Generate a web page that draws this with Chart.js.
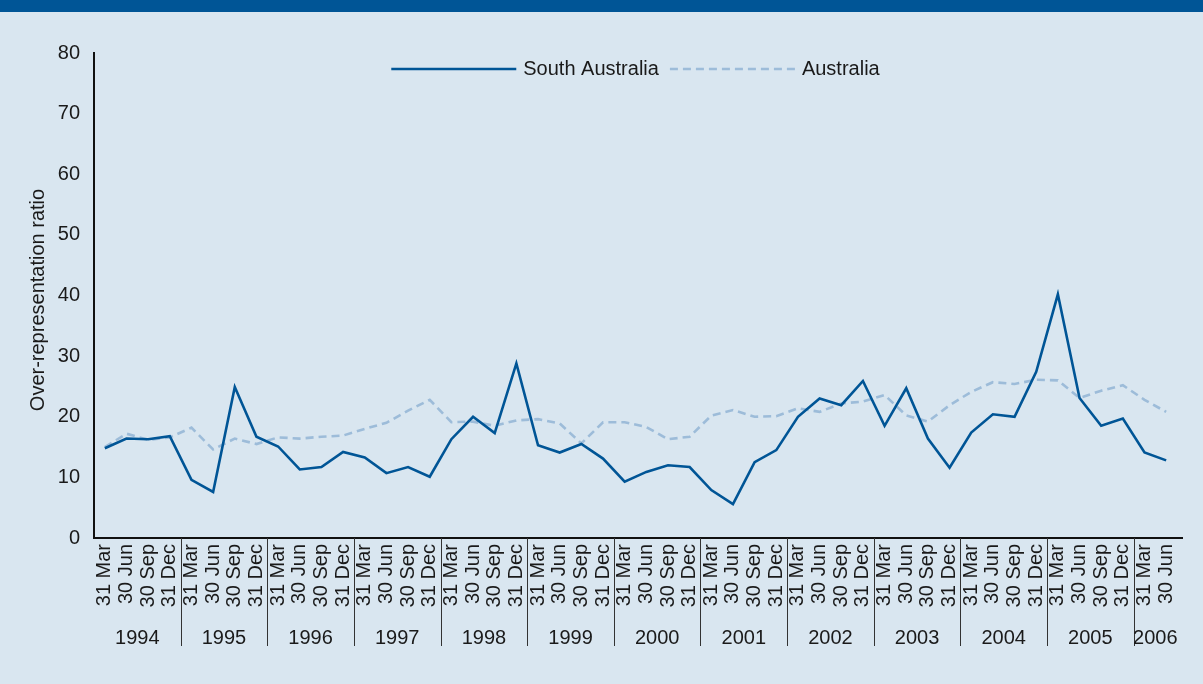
<!DOCTYPE html>
<html>
<head>
<meta charset="utf-8">
<script src="https://cdn.jsdelivr.net/npm/chart.js@4/dist/chart.umd.min.js"></script>
<style>
html, body { margin: 0; padding: 0; background: #d9e6f0; overflow: hidden; }
#wrap { position: absolute; left: 0; top: 0; width: 1203px; height: 684px; }
#bar { position: absolute; left: 0; top: 0; width: 1203px; height: 12px; background: #005596; }
</style>
</head>
<body>
<div id="wrap"><canvas id="chart" width="1203" height="684"></canvas></div>
<div id="bar"></div>
<script>
const years = ['1994', '1995', '1996', '1997', '1998', '1999', '2000', '2001', '2002', '2003', '2004', '2005', '2006'];
const quarters = ['31 Mar', '30 Jun', '30 Sep', '31 Dec'];
const saValues = [
    14.8, 16.4, 16.3, 16.8,  9.6,  7.6, 24.9, 16.7,
    15.1, 11.3, 11.7, 14.2, 13.3, 10.7, 11.7, 10.1,
    16.3, 20.0, 17.3, 28.8, 15.3, 14.1, 15.5, 13.1,
     9.3, 10.9, 12.0, 11.7,  7.9,  5.6, 12.5, 14.5,
    20.0, 23.0, 21.9, 25.9, 18.5, 24.7, 16.4, 11.6,
    17.4, 20.4, 20.0, 27.4, 40.2, 23.1, 18.5, 19.7,
    14.1, 12.8
];
const ausValues = [
    15.0, 17.2, 16.2, 16.6, 18.2, 14.6, 16.4, 15.5,
    16.6, 16.4, 16.7, 16.9, 18.0, 19.0, 21.0, 22.8,
    19.1, 19.2, 18.5, 19.4, 19.6, 18.9, 15.6, 19.1,
    19.1, 18.3, 16.3, 16.7, 20.2, 21.1, 20.0, 20.1,
    21.4, 20.8, 22.2, 22.5, 23.6, 20.2, 19.2, 21.9,
    24.1, 25.7, 25.4, 26.1, 26.0, 23.1, 24.3, 25.2,
    22.8, 20.8
];

// quarter labels, 31 Mar 1994 .. 30 Jun 2006
const labels = [];
years.forEach(y => quarters.forEach(q => labels.push(q)));
labels.length = saValues.length;

const FONT = '"Liberation Sans", Arial, sans-serif';
const TEXT = '#1a1a1a';

const extras = {
    id: 'extras',
    afterDraw(chart) {
        const ctx = chart.ctx;
        const x = chart.scales.x;
        const area = chart.chartArea;
        const step = x.getPixelForValue(1) - x.getPixelForValue(0);

        ctx.save();
        ctx.font = '20px ' + FONT;
        ctx.fillStyle = TEXT;
        ctx.textAlign = 'center';
        ctx.textBaseline = 'middle';

        // year labels and separators
        years.forEach((yr, k) => {
            const first = k * 4;
            const last = Math.min(first + 3, labels.length - 1);
            const left = x.getPixelForValue(first) - step / 2;
            const right = x.getPixelForValue(last) + step / 2;
            ctx.fillText(yr, (left + right) / 2, 638);
            if (k < years.length - 1) {
                ctx.strokeStyle = '#333';
                ctx.lineWidth = 1;
                ctx.beginPath();
                ctx.moveTo(Math.round(right) + 0.5, area.bottom);
                ctx.lineTo(Math.round(right) + 0.5, 646);
                ctx.stroke();
            }
        });

        // y axis title
        ctx.save();
        ctx.translate(38, 300);
        ctx.rotate(-Math.PI / 2);
        ctx.fillText('Over-representation ratio', 0, 0);
        ctx.restore();

        // legend inside the plot
        const sets = chart.data.datasets;
        const lineW = 125, gapText = 7, gapItem = 11;
        ctx.textAlign = 'left';
        let total = 0;
        sets.forEach((ds, i) => {
            total += lineW + gapText + ctx.measureText(ds.label).width;
            if (i < sets.length - 1) total += gapItem;
        });
        let cx = (area.left + area.right) / 2 - total / 2;
        const ly = 69;
        sets.forEach(ds => {
            ctx.strokeStyle = ds.borderColor;
            ctx.lineWidth = ds.borderWidth;
            ctx.setLineDash(ds.borderDash || []);
            ctx.beginPath();
            ctx.moveTo(cx, ly);
            ctx.lineTo(cx + lineW, ly);
            ctx.stroke();
            ctx.setLineDash([]);
            cx += lineW + gapText;
            ctx.fillText(ds.label, cx, ly);
            cx += ctx.measureText(ds.label).width + gapItem;
        });

        // axis line runs a little past the last quarter
        ctx.strokeStyle = '#111';
        ctx.lineWidth = 2;
        ctx.beginPath();
        ctx.moveTo(area.right - 1, area.bottom);
        ctx.lineTo(area.right + 6, area.bottom);
        ctx.stroke();
        ctx.restore();
    }
};

new Chart(document.getElementById('chart'), {
    type: 'line',
    data: {
        labels: labels,
        datasets: [{
            label: 'South Australia',
            data: saValues,
            borderColor: '#005596',
            borderWidth: 2.6,
            pointRadius: 0,
            tension: 0,
            fill: false
        }, {
            label: 'Australia',
            data: ausValues,
            borderColor: '#9dbcd9',
            borderWidth: 2.6,
            borderDash: [8, 5],
            pointRadius: 0,
            tension: 0,
            fill: false
        }]
    },
    options: {
        responsive: false,
        animation: false,
        layout: { padding: { left: 0, right: 26, top: 53, bottom: 0 } },
        plugins: {
            legend: { display: false },
            tooltip: { enabled: false }
        },
        scales: {
            x: {
                offset: true,
                grid: { display: false, drawTicks: false },
                border: { display: true, color: '#111', width: 2 },
                ticks: {
                    autoSkip: false,
                    maxRotation: 90,
                    minRotation: 90,
                    padding: 6,
                    color: TEXT,
                    font: { family: FONT, size: 20 }
                },
                afterFit(scale) { scale.height = 146; }
            },
            y: {
                min: 0,
                max: 80,
                grid: { display: false, drawTicks: false },
                border: { display: true, color: '#111', width: 2 },
                ticks: {
                    stepSize: 10,
                    padding: 14,
                    color: TEXT,
                    font: { family: FONT, size: 20 }
                },
                afterFit(scale) { scale.width = 94; }
            }
        }
    },
    plugins: [extras]
});
</script>
</body>
</html>
